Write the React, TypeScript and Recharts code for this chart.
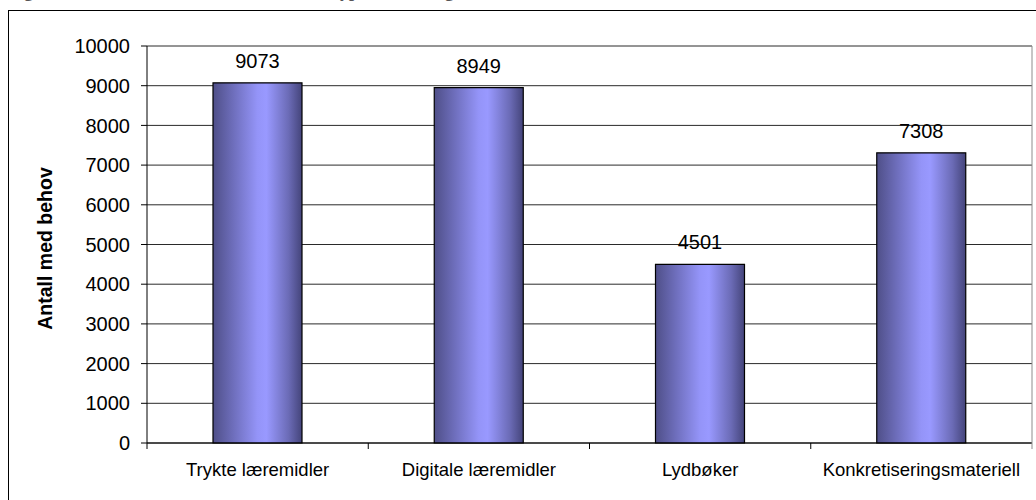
import React from "react";
import { Bar, BarChart, CartesianGrid, LabelList, XAxis, YAxis } from "recharts";

const categories = ["Trykte læremidler", "Digitale læremidler", "Lydbøker", "Konkretiseringsmateriell"];
const counts = [9073, 8949, 4501, 7308];
const yTicks = [0, 1000, 2000, 3000, 4000, 5000, 6000, 7000, 8000, 9000, 10000];
const yTitle = "Antall med behov";
const figTitle = "Figur 4: Antall elever med behov for ulike typer tilrettelagte læremidler";

const data = categories.map((name, i) => ({ name, value: counts[i] }));

function CategoryTick(props: any) {
  const { x, y, payload, index } = props;
  const half = payload?.offset ?? 110.6;
  return (
    <g>
      {index === 0 && <line x1={x - half} x2={x - half} y1={y} y2={y + 6} stroke="#000" />}
      <line x1={x + half} x2={x + half} y1={y} y2={y + 6} stroke={index === categories.length - 1 ? "#8c8c8c" : "#000"} />
      <text x={x} y={y + 33} textAnchor="middle" fontSize={18.5} fill="#000">
        {payload.value}
      </text>
    </g>
  );
}

function YTitle(props: any) {
  const vb = props.viewBox || {};
  const cy = (vb.y ?? 46) + (vb.height ?? 397) / 2 + 4;
  const cx = 45;
  return (
    <text x={cx} y={cy} transform={`rotate(-90, ${cx}, ${cy})`} textAnchor="middle" dominantBaseline="central" fontSize={19.5} fontWeight="bold" fill="#000">
      {yTitle}
    </text>
  );
}

export default function App() {
  return (
    <div style={{ position: "fixed", left: 0, top: 0, width: 1036, height: 500, overflow: "hidden", background: "#fff", fontFamily: "'Liberation Sans', Arial, sans-serif" }}>
      {/* figure caption sits above the crop, only its descenders peek in */}
      <div style={{ position: "absolute", left: 8, top: -18, whiteSpace: "nowrap", fontFamily: "'Liberation Serif', serif", fontWeight: "bold", fontSize: 18, lineHeight: "18px", color: "#555" }}>
        {figTitle}
      </div>
      <div style={{ position: "absolute", left: 8, top: 10, width: 1100, height: 600, border: "1px solid #000" }} />
      <div style={{ position: "absolute", left: 0, top: 0 }}>
        <BarChart width={1036} height={500} data={data} margin={{ top: 46, right: 0, bottom: 0, left: 0 }} style={{ fontFamily: "'Liberation Sans', Arial, sans-serif" }}>
          <defs>
            <linearGradient id="barShade" x1="0" y1="0" x2="1" y2="0">
              <stop offset="0%" stopColor="#4f4f88" />
              <stop offset="22%" stopColor="#6d6dba" />
              <stop offset="50%" stopColor="#9494f8" />
              <stop offset="60%" stopColor="#9999ff" />
              <stop offset="85%" stopColor="#6b6bb6" />
              <stop offset="100%" stopColor="#44447a" />
            </linearGradient>
          </defs>
          <CartesianGrid stroke="#2a2a2a" vertical={false} />
          <XAxis
            dataKey="name"
            height={57}
            tickSize={0}
            tickMargin={0}
            tickLine={false}
            axisLine={{ stroke: "#000" }}
            interval={0}
            tick={<CategoryTick />}
          />
          <YAxis
            width={147}
            domain={[0, 10000]}
            ticks={yTicks}
            interval={0}
            tickSize={6}
            tickMargin={11}
            tickLine={{ stroke: "#000" }}
            axisLine={{ stroke: "#000" }}
            tick={{ fill: "#000", fontSize: 20 }}
            label={<YTitle />}
          />
          <YAxis yAxisId="frame" orientation="right" width={4} tick={false} tickLine={false} axisLine={{ stroke: "#8c8c8c" }} />
          <Bar dataKey="value" barSize={89} fill="url(#barShade)" stroke="#000" strokeWidth={1.2} isAnimationActive={false}>
            <LabelList dataKey="value" position="top" offset={15} fill="#000" fontSize={20} />
          </Bar>
        </BarChart>
      </div>
    </div>
  );
}
